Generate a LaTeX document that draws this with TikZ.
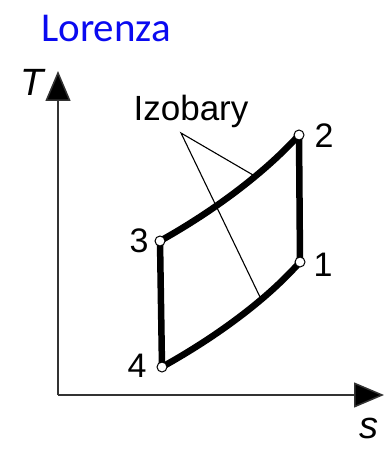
\documentclass[tikz,border=0pt]{standalone}
\usepackage{fontspec}
\setmainfont{Liberation Sans}
\newfontfamily\titlefont{Carlito}
\usetikzlibrary{arrows.meta}
\definecolor{titleblue}{RGB}{10,10,240}
\tikzset{
  axis/.style={line width=1.5pt, draw=black!80, -{Triangle[length=30pt,width=25pt,fill=black]}},
  thickline/.style={line width=6.5pt, line cap=round},
  leader/.style={line width=1.1pt},
  statept/.style={circle, draw=black, fill=white, line width=1pt, inner sep=0pt, minimum size=10pt},
  numlabel/.style={font=\fontsize{34}{36}\selectfont, inner sep=0pt},
  axlabel/.style={font=\fontsize{38}{40}\selectfont\itshape, inner sep=0pt},
}
\begin{document}
\begin{tikzpicture}[x=1pt,y=-1pt]
\useasboundingbox (0,0) rectangle (384,449);
\node[anchor=base west, inner sep=0pt, text=titleblue, font=\titlefont\fontsize{41}{44}\selectfont] (title) at (41,42) {Lorenza};
% axes
\coordinate (origin) at (58,395);
\coordinate (ytip) at (58,71);
\coordinate (xtip) at (384,395);
\draw[axis] (origin) -- (ytip);
\draw[axis] (origin) -- (xtip);
\node[axlabel] (T) at (32,82) {T};
\node[axlabel, anchor=base east] (s) at (379,438) {s};
% states
\coordinate (c1) at (300,262);
\coordinate (c2) at (299,135);
\coordinate (c3) at (160,241);
\coordinate (c4) at (162,367);
\draw[thickline] (c3) .. controls (205,216) and (260,178) .. (c2);
\draw[thickline] (c4) .. controls (207,342) and (262,305) .. (c1);
\draw[thickline] (c2) -- (c1);
\draw[thickline] (c3) -- (c4);
\node[statept] (p1) at (c1) {};
\node[statept] (p2) at (c2) {};
\node[statept] (p3) at (c3) {};
\node[statept] (p4) at (c4) {};
\node[numlabel] (l1) at (323,265) {1};
\node[numlabel] (l2) at (324,136) {2};
\node[numlabel] (l3) at (139,241) {3};
\node[numlabel] (l4) at (137,366) {4};
% leaders
\node[font=\fontsize{35}{38}\selectfont, inner sep=0pt, anchor=base] (izo) at (191,121) {Izobary};
\coordinate (apex) at (181,133);
\coordinate (hu) at (253,175);
\coordinate (hl) at (260,297);
\draw[leader] (hu) -- (apex) -- (hl);
\end{tikzpicture}
\end{document}
